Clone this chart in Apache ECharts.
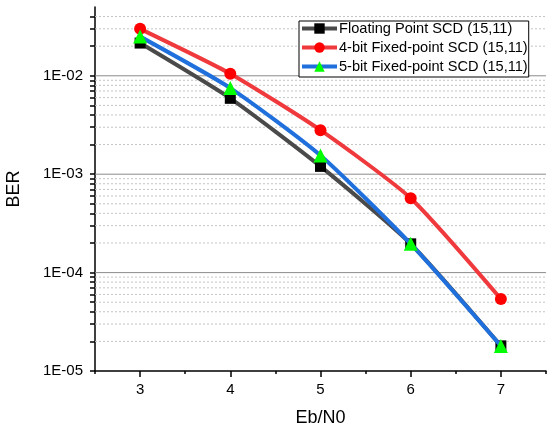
<!DOCTYPE html>
<html>
<head>
<meta charset="utf-8">
<script src="https://cdn.jsdelivr.net/npm/echarts@6/dist/echarts.min.js"></script>
<style>
  html, body { margin: 0; padding: 0; background: #fff; }
  #chart { width: 556px; height: 429px; }
</style>
</head>
<body>
<div id="chart"></div>
<script>
// data
const ebn0 = [3, 4, 5, 6, 7]
const floatingBer = [2.15e-2, 5.9e-3, 1.2e-3, 1.96e-4, 1.8e-5]
const fixed4Ber = [3.0e-2, 1.05e-2, 2.8e-3, 5.7e-4, 5.4e-5]
const fixed5Ber = [2.5e-2, 7.5e-3, 1.55e-3, 1.96e-4, 1.8e-5]
const seriesNames = ['Floating Point SCD (15,11)', '4-bit Fixed-point SCD (15,11)', '5-bit Fixed-point SCD (15,11)']

// axis ticks
const yMajorTicks = [1e-5, 1e-4, 1e-3, 1e-2]
const yMinorTicks = [
  2e-5, 3e-5, 4e-5, 5e-5, 6e-5, 7e-5, 8e-5, 9e-5,
  2e-4, 3e-4, 4e-4, 5e-4, 6e-4, 7e-4, 8e-4, 9e-4,
  2e-3, 3e-3, 4e-3, 5e-3, 6e-3, 7e-3, 8e-3, 9e-3,
  2e-2, 3e-2, 4e-2
]
const xMajorTicks = [3, 4, 5, 6, 7]
const xMinorTicks = [2.5, 3.5, 4.5, 5.5, 6.5, 7.5]
const xRange = [2.5, 7.5]

const chart = echarts.init(document.getElementById('chart'), null, { renderer: 'canvas' })
const font = 'Liberation Sans, Arial, sans-serif'

function pair(ys) {
  return ebn0.map((x, i) => [x, ys[i]])
}

// horizontal grid lines as segments across the x range, broken by '-'
function gridSegments(values) {
  const out = []
  values.forEach((v) => {
    out.push([xRange[0], v], [xRange[1], v], ['-', '-'])
  })
  return out
}

chart.setOption({
  animation: false,
  grid: { left: 95, right: 10, top: 7, bottom: 58, outerBoundsMode: 'none', containLabel: false },
  legend: {
    orient: 'vertical',
    left: 299,
    top: 21,
    itemWidth: 35,
    itemHeight: 13,
    itemGap: 4,
    padding: [0, 1, 3, 1],
    borderColor: '#000',
    borderWidth: 1,
    borderRadius: 0,
    backgroundColor: '#fff',
    lineStyle: { width: 4 },
    textStyle: { fontFamily: font, fontSize: 14.6, lineHeight: 14, color: '#000', padding: [0, 0, 0, -3] },
    data: seriesNames,
  },
  xAxis: [
    {
      type: 'value',
      min: xRange[0],
      max: xRange[1],
      interval: 0.5,
      name: 'Eb/N0',
      nameLocation: 'middle',
      nameGap: 38,
      nameTextStyle: { fontFamily: font, fontSize: 18, color: '#000' },
      axisLine: { show: true, onZero: false, lineStyle: { color: '#000', width: 1.5 } },
      axisTick: { show: true, customValues: xMajorTicks, length: 6, lineStyle: { color: '#000', width: 1.5 } },
      axisLabel: {
        customValues: xMajorTicks,
        margin: 11,
        fontFamily: font,
        fontSize: 15,
        color: '#000',
      },
      splitLine: { show: false },
    },
    {
      type: 'value',
      min: xRange[0],
      max: xRange[1],
      interval: 0.5,
      position: 'bottom',
      axisLine: { show: false },
      axisTick: { show: true, customValues: xMinorTicks, length: 3, lineStyle: { color: '#000', width: 1.5 } },
      axisLabel: { show: false },
      splitLine: { show: false },
    },
  ],
  yAxis: [
    {
      type: 'log',
      logBase: 10,
      min: 1e-5,
      max: 5e-2,
      name: 'BER',
      nameLocation: 'middle',
      nameGap: 72,
      nameTextStyle: { fontFamily: font, fontSize: 18, color: '#000' },
      axisLine: { show: true, onZero: false, lineStyle: { color: '#000', width: 1.5 } },
      axisTick: { show: true, customValues: yMajorTicks.concat(yMinorTicks), length: 5, lineStyle: { color: '#000', width: 1.5 } },
      axisLabel: {
        customValues: yMajorTicks,
        margin: 12,
        fontFamily: font,
        fontSize: 15,
        color: '#000',
        formatter: (v) => {
          const e = Math.round(Math.log10(v))
          return '1E-' + String(-e).padStart(2, '0')
        },
      },
      splitLine: { show: false },
    },
  ],
  series: [
    {
      type: 'line',
      name: 'minor grid',
      data: gridSegments(yMinorTicks),
      z: 1,
      silent: true,
      symbol: 'none',
      connectNulls: false,
      lineStyle: { color: '#c4c4c4', type: [2, 2], width: 1 },
    },
    {
      type: 'line',
      name: 'major grid',
      data: gridSegments(yMajorTicks.slice(1)),
      z: 1,
      silent: true,
      symbol: 'none',
      connectNulls: false,
      lineStyle: { color: '#8c8c8c', type: 'solid', width: 1 },
    },
    {
      type: 'line',
      name: seriesNames[0],
      data: pair(floatingBer),
      smooth: 0.2,
      z: 3,
      symbol: 'rect',
      symbolSize: 11,
      lineStyle: { color: '#4a4a4a', width: 4, type: 'solid' },
      itemStyle: { color: '#000' },
    },
    {
      type: 'line',
      name: seriesNames[1],
      data: pair(fixed4Ber),
      smooth: 0.2,
      z: 4,
      symbol: 'circle',
      symbolSize: 12,
      lineStyle: { color: '#f0393c', width: 4, type: 'solid' },
      itemStyle: { color: '#ff0000' },
    },
    {
      type: 'line',
      name: seriesNames[2],
      data: pair(fixed5Ber),
      smooth: 0.2,
      z: 5,
      symbol: 'triangle',
      symbolSize: 14,
      lineStyle: { color: '#1f6fdc', width: 4, type: 'solid' },
      itemStyle: { color: '#00ff00' },
    },
  ],
})
</script>
</body>
</html>
